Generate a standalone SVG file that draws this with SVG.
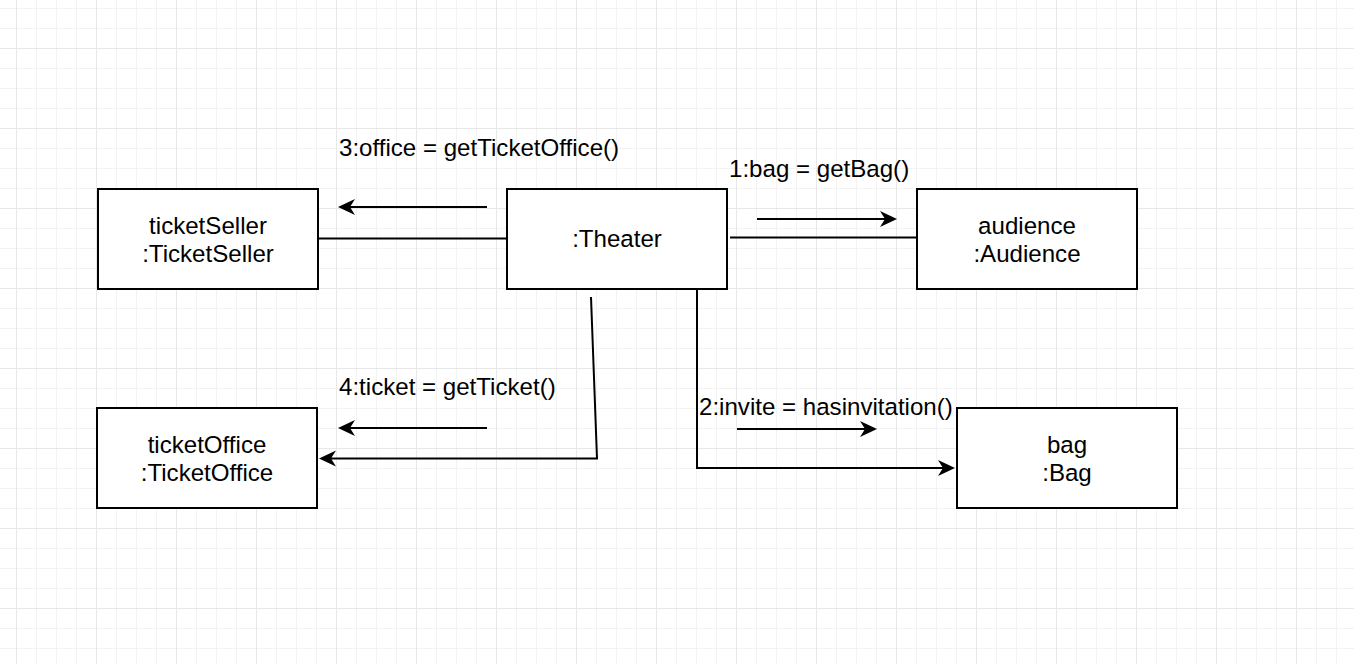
<svg xmlns="http://www.w3.org/2000/svg" width="1354" height="664" viewBox="0 0 1354 664">
  <defs>
    <pattern id="minor" x="16" y="8" width="20" height="20" patternUnits="userSpaceOnUse">
      <path d="M0.5,0 V20 M0,0.5 H20" fill="none" stroke="#f3f3f3" stroke-width="1"/>
    </pattern>
    <pattern id="major" x="16" y="48" width="80" height="80" patternUnits="userSpaceOnUse">
      <path d="M0.5,0 V80 M0,0.5 H80" fill="none" stroke="#e8e8e8" stroke-width="1"/>
    </pattern>
    <marker id="arrow" markerUnits="userSpaceOnUse" markerWidth="20" markerHeight="20" viewBox="0 -10 20 20" refX="5" refY="0" orient="auto" overflow="visible">
      <path d="M17,0 L0,-8 L5,0 L0,8 Z" fill="#000"/>
    </marker>
    <style>
      .node rect { fill: #fff; stroke: #000; stroke-width: 2; }
      .lbl { font-family: "Liberation Sans", Arial, Helvetica, sans-serif; font-size: 24.1px; fill: #000; }
      .node text { text-anchor: middle; }
      .conn { fill: none; stroke: #000; stroke-width: 2; }
      .msg { fill: none; stroke: #000; stroke-width: 2; marker-end: url(#arrow); }
    </style>
  </defs>
  <rect width="1354" height="664" fill="#fff"/>
  <rect width="1354" height="664" fill="url(#minor)"/>
  <rect width="1354" height="664" fill="url(#major)"/>

  <g id="connectors">
    <line class="conn" x1="318" y1="238.5" x2="507" y2="238.5"/>
    <line class="conn" x1="730" y1="237.5" x2="917" y2="237.5"/>
    <polyline class="msg" points="591,297 597,458.5 331,458.5"/>
    <polyline class="msg" points="697,289 697,468 943,468"/>
    <line class="msg" x1="487" y1="207" x2="350" y2="207"/>
    <line class="msg" x1="757" y1="219" x2="885" y2="219"/>
    <line class="msg" x1="487" y1="428" x2="350" y2="428"/>
    <line class="msg" x1="737" y1="429" x2="865" y2="429"/>
    <text class="lbl" x="339" y="156">3:office = getTicketOffice()</text>
    <text class="lbl" x="729" y="177">1:bag = getBag()</text>
    <text class="lbl" x="339" y="395">4:ticket = getTicket()</text>
    <text class="lbl" x="699" y="415">2:invite = hasinvitation()</text>
  </g>

  <g id="ticketSeller" class="node">
    <rect x="98" y="189" width="220" height="100"/>
    <text class="lbl" x="208" y="233.5">ticketSeller</text>
    <text class="lbl" x="208" y="261.5">:TicketSeller</text>
  </g>
  <g id="theater" class="node">
    <rect x="507" y="189" width="220" height="100"/>
    <text class="lbl" x="617" y="247">:Theater</text>
  </g>
  <g id="audience" class="node">
    <rect x="917" y="189" width="220" height="100"/>
    <text class="lbl" x="1027" y="233.5">audience</text>
    <text class="lbl" x="1027" y="261.5">:Audience</text>
  </g>
  <g id="ticketOffice" class="node">
    <rect x="97" y="408" width="220" height="100"/>
    <text class="lbl" x="207" y="452.5">ticketOffice</text>
    <text class="lbl" x="207" y="480.5">:TicketOffice</text>
  </g>
  <g id="bag" class="node">
    <rect x="957" y="408" width="220" height="100"/>
    <text class="lbl" x="1067" y="452.5">bag</text>
    <text class="lbl" x="1067" y="480.5">:Bag</text>
  </g>
</svg>
